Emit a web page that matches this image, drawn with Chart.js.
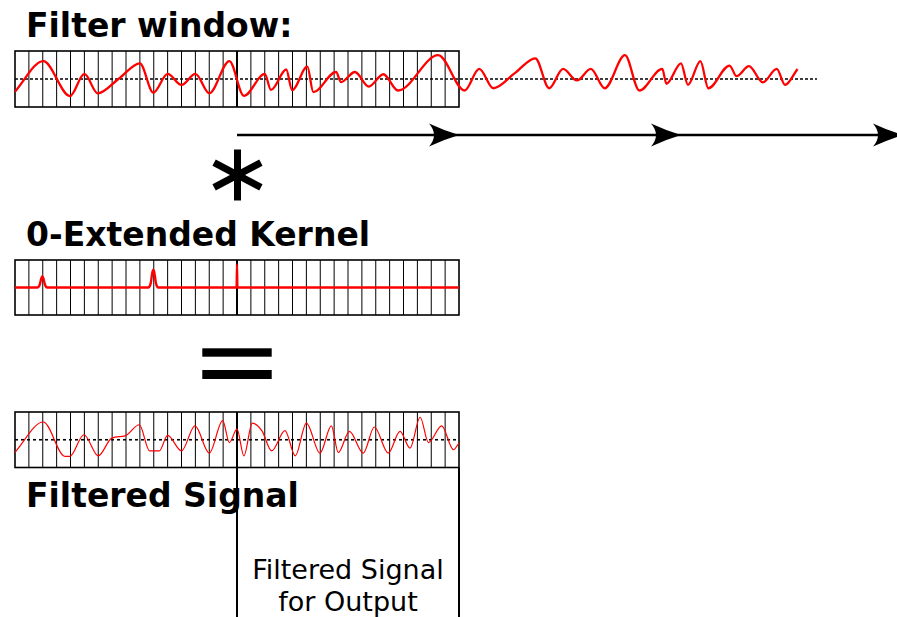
<!DOCTYPE html>
<html>
<head>
<meta charset="utf-8">
<script src="https://cdn.jsdelivr.net/npm/chart.js@4.4.1/dist/chart.umd.min.js"></script>
<style>
  body { margin: 0; background: #fff; overflow: hidden; }
  #wrap { position: relative; width: 897px; height: 617px; background: #fff; }
  #wrap canvas { position: absolute; left: 0; top: 0; }
  .title { position: absolute; left: 26px; font: bold 33px/38px "DejaVu Sans", sans-serif; color: #000; white-space: nowrap; }
  .out { position: absolute; left: 237px; width: 222px; top: 554px; text-align: center;
         font: 27px/32px "DejaVu Sans", sans-serif; color: #000; }
</style>
</head>
<body>
<div id="wrap">
  <div class="title" style="top:7px">Filter window:</div>
  <div class="title" style="top:216px">0-Extended Kernel</div>
  <div class="title" style="top:477px">Filtered Signal</div>
  <div class="out">Filtered Signal<br>for Output</div>
  <canvas id="cWindow" width="897" height="617"></canvas>
  <canvas id="cKernel" width="897" height="617"></canvas>
  <canvas id="cFiltered" width="897" height="617"></canvas>
</div>
<script>
// x values are in cells of the window (32 cells), y is relative to half the box height
const windowX = [0, 2.04, 3.96, 5.0, 5.96, 7.5, 9.0, 9.97, 11.0, 12.0, 13.0, 14.0, 15.45, 16.5,
  18.0, 18.45, 19.55, 19.97, 21.07, 21.5, 23.14, 23.5, 24.5, 25.5, 26.55, 27.6, 30.5, 32.4,
  33.46, 34.47, 36.0, 37.5, 38.5, 39.5, 40.5, 41.5, 42.5, 43.96, 45.0, 46.65, 46.95, 48.0,
  48.5, 49.4, 49.97, 51.5, 52.0, 52.9, 53.9, 54.9, 55.5, 56.4];
const windowY = [-0.45, 0.64, -0.61, 0.18, -0.51, 0.02, 0.56, -0.49, 0.18, -0.21, 0.18, -0.51, 0.64, -0.6,
  0.18, -0.39, 0.34, -0.4, 0.44, -0.47, 0.25, -0.11, 0.25, -0.27, 0.17, -0.41, 0.85, -0.41,
  0.36, -0.33, 0.2, 0.74, -0.33, 0.36, -0.05, 0.36, -0.33, 0.85, -0.41, 0.36, -0.17, 0.56,
  -0.21, 0.64, -0.33, 0.48, 0.1, 0.46, -0.12, 0.36, -0.21, 0.36];
const windowZeroX = [0, 57.8];

// kernel: two small bumps and a unit spike at the centre of the window
const kernelX = [0, 1.6, 1.78, 1.9, 1.97, 2.04, 2.16, 2.33, 9.6, 9.78, 9.9, 9.97, 10.04, 10.16, 10.33,
  15.97, 16.0, 16.03, 32];
const kernelY = [0, 0, 0.1, 0.34, 0.41, 0.34, 0.1, 0, 0, 0.15, 0.55, 0.65, 0.55, 0.15, 0,
  0, 0.84, 0, 0];

const filteredX = [0, 2.04, 3.6, 3.95, 4.97, 6.0, 6.97, 7.93, 8.96, 9.7, 10.4, 11.0, 12.0, 12.97,
  14.0, 14.97, 15.45, 16.0, 16.5, 17.1, 17.8, 18.5, 19.46, 20.2, 21.0, 21.98, 22.8, 23.3, 24.1,
  25.1, 25.9, 26.9, 27.75, 28.47, 29.2, 29.8, 30.75, 31.6, 32];
const filteredY = [-0.45, 0.64, -0.6, -0.6, 0.18, -0.58, 0.06, 0.14, 0.54, -0.4, -0.4, 0.16, -0.4, 0.5,
  -0.48, 0.69, -0.1, 0.38, -0.58, 0.6, 0.32, -0.4, 0.33, -0.58, 0.6, -0.48, 0.5, -0.46, 0.3,
  -0.48, 0.46, -0.48, 0.3, -0.3, 0.81, -0.1, 0.5, -0.36, -0.12];
const filteredZeroX = [0, 32];

const arrowX = [16, 64];
const arrowY = [-2, -2];
const arrowTips = [32, 48, 64];

const CELLS = 32, MID = 16;

const zip = (xs, ys) => xs.map((x, i) => ({ x, y: ys[i] }));

const panelFrame = {
  id: 'panelFrame',
  beforeDatasetsDraw(chart) {
    const { ctx, scales: { x, y } } = chart;
    const left = x.getPixelForValue(0), right = x.getPixelForValue(CELLS);
    const top = y.getPixelForValue(1), bottom = y.getPixelForValue(-1);
    ctx.save();
    ctx.strokeStyle = '#000';
    for (let c = 1; c < CELLS; c++) {
      const px = x.getPixelForValue(c);
      ctx.lineWidth = c === MID ? 2 : 1;
      ctx.beginPath();
      ctx.moveTo(px, top);
      ctx.lineTo(px, bottom);
      ctx.stroke();
    }
    ctx.lineWidth = 1.6;
    ctx.strokeRect(left, top, right - left, bottom - top);
    ctx.restore();
  }
};

function arrowHead(ctx, tx, ty) {
  ctx.beginPath();
  ctx.moveTo(tx, ty);
  ctx.quadraticCurveTo(tx - 15, ty - 4.5, tx - 30, ty - 11.5);
  ctx.quadraticCurveTo(tx - 20, ty, tx - 30, ty + 11.5);
  ctx.quadraticCurveTo(tx - 15, ty + 4.5, tx, ty);
  ctx.fill();
}

function panel(id, top, bottom, datasets, extra) {
  return new Chart(document.getElementById(id), {
    type: 'line',
    data: { datasets },
    options: {
      responsive: false,
      animation: false,
      events: [],
      layout: { padding: { left: 15, right: 0, top: top, bottom: 617 - bottom } },
      scales: {
        x: { type: 'linear', display: false, min: 0, max: 882 / 13.875 },
        y: { type: 'linear', display: false, min: -1, max: 1 }
      },
      plugins: { legend: { display: false }, tooltip: { enabled: false } },
      elements: { point: { radius: 0 } }
    },
    plugins: [panelFrame, extra]
  });
}

// Filter window: signal, zero line, sliding arrow and the convolution star
panel('cWindow', 51, 107, [
  { data: zip(windowX, windowY), borderColor: '#ff0000', borderWidth: 2.3,
    cubicInterpolationMode: 'monotone', clip: false, order: 1 },
  { data: zip(windowZeroX, [0, 0]), borderColor: '#000', borderWidth: 1.4,
    borderDash: [3, 2], clip: false, order: 2 },
  { data: zip(arrowX, arrowY), borderColor: '#000', borderWidth: 2.5, clip: false, order: 3 }
], {
  id: 'windowExtras',
  afterDatasetsDraw(chart) {
    const { ctx, scales: { x, y } } = chart;
    ctx.save();
    ctx.fillStyle = '#000';
    arrowTips.forEach(t => arrowHead(ctx, x.getPixelForValue(t), y.getPixelForValue(arrowY[0])));
    // star
    const cx = x.getPixelForValue(MID) + 0.5, cy = y.getPixelForValue(-1) + 68;
    ctx.strokeStyle = '#000';
    ctx.lineWidth = 7;
    [90, 28, -28].forEach(a => {
      const r = a === 90 ? 25.5 : 26.5, rad = a * Math.PI / 180;
      ctx.beginPath();
      ctx.moveTo(cx - r * Math.cos(rad), cy - r * Math.sin(rad));
      ctx.lineTo(cx + r * Math.cos(rad), cy + r * Math.sin(rad));
      ctx.stroke();
    });
    ctx.restore();
  }
});

// 0-extended kernel and the equals sign below it
panel('cKernel', 260, 315, [
  { data: zip(kernelX, kernelY), borderColor: '#ff0000', borderWidth: 2.4,
    cubicInterpolationMode: 'monotone', clip: false, order: 1 }
], {
  id: 'kernelExtras',
  afterDatasetsDraw(chart) {
    const { ctx, scales: { x, y } } = chart;
    const cx = x.getPixelForValue(MID), base = y.getPixelForValue(-1);
    ctx.save();
    ctx.fillStyle = '#000';
    ctx.fillRect(cx - 34.7, base + 33.3, 69.4, 8.4);
    ctx.fillRect(cx - 34.7, base + 55, 69.4, 9);
    ctx.restore();
  }
});

// Filtered signal and the output part of it
panel('cFiltered', 412, 467.5, [
  { data: zip(filteredX, filteredY), borderColor: '#ff0000', borderWidth: 1.2,
    cubicInterpolationMode: 'monotone', clip: false, order: 1 },
  { data: zip(filteredZeroX, [0, 0]), borderColor: '#000', borderWidth: 1.6,
    borderDash: [3, 3], clip: false, order: 2 }
], {
  id: 'outputBox',
  afterDatasetsDraw(chart) {
    const { ctx, scales: { x, y } } = chart;
    const top = y.getPixelForValue(-1);
    ctx.save();
    ctx.strokeStyle = '#000';
    ctx.lineWidth = 2;
    [MID, CELLS].forEach(c => {
      const px = x.getPixelForValue(c);
      ctx.beginPath();
      ctx.moveTo(px, top);
      ctx.lineTo(px, chart.height);
      ctx.stroke();
    });
    ctx.restore();
  }
});
</script>
</body>
</html>
